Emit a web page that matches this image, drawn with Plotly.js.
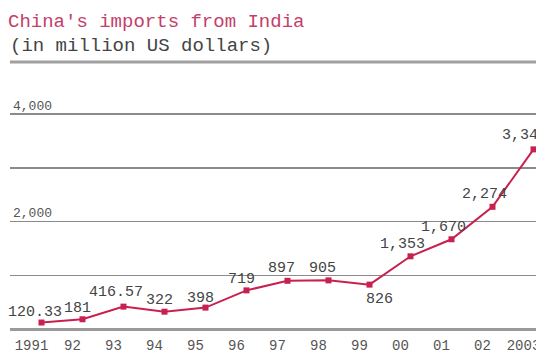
<!DOCTYPE html>
<html>
<head>
<meta charset="utf-8">
<script src="https://cdn.plot.ly/plotly-3.0.1.min.js"></script>
<style>html,body{margin:0;padding:0;background:#fff;}#chart{width:536px;height:356px;}</style>
</head>
<body>
<div id="chart"></div>
<script>
const years = [1991, 1992, 1993, 1994, 1995, 1996, 1997, 1998, 1999, 2000, 2001, 2002, 2003];
const yearLabels = ["1991", "92", "93", "94", "95", "96", "97", "98", "99", "00", "01", "02", "2003"];
const imports = [120.33, 181, 416.57, 322, 398, 719, 897, 905, 826, 1353, 1670, 2274, 3343];
const yTickVals = [0, 1000, 2000, 3000, 4000];
const yTickText = ["", "", "2,000", "", "4,000"];

// label offsets (px) relative to each point
const labelDX = [-6, -5, -7, -5, -5, -5, -6, -6, 10, -8, -8, -8, -9];
const labelDY = [10, 11, 14, 11, 9, 11, 12, 12, -15, 12, 12, 12, 14];

const lineColor = '#c8204f';
const textGray = '#555555';
const monoFont = '"Liberation Mono", "Courier New", monospace';

const trace = {
  x: years,
  y: imports,
  type: 'scatter',
  mode: 'lines+markers',
  line: {color: lineColor, width: 2},
  marker: {symbol: 'square', size: 6, color: lineColor},
  cliponaxis: false,
  hoverinfo: 'x+y'
};

const annotations = imports.map((v, i) => ({
  x: years[i], y: v, xref: 'x', yref: 'y',
  text: v.toLocaleString('en-US'),
  showarrow: false,
  xshift: labelDX[i], yshift: labelDY[i],
  font: {family: monoFont, size: 15, color: '#444'},
  xanchor: 'center', yanchor: 'middle'
}));

annotations.push({
  xref: 'paper', yref: 'paper', x: -0.004, y: 1 + (113 - 46)/216,
  xanchor: 'left', yanchor: 'middle', showarrow: false,
  text: '(in million US dollars)',
  font: {family: monoFont, size: 19, color: '#444'}
});

const layout = {
  width: 536, height: 356,
  margin: {l: 10, r: 0, t: 113, b: 27},
  paper_bgcolor: '#fff', plot_bgcolor: '#fff',
  showlegend: false,
  title: {
    text: "China's imports from India",
    xref: 'container', yref: 'container',
    x: 8/536, xanchor: 'left', y: 1 - 20/356, yanchor: 'middle',
    font: {family: monoFont, size: 19, color: '#c43e6a'}
  },
  xaxis: {
    range: [1990.232, 2003.061],
    tickvals: years, ticktext: yearLabels,
    ticks: '', showgrid: false, zeroline: false, showline: false,
    ticklabelshift: -10, ticklabelstandoff: 6,
    ticklabeloverflow: 'allow',
    tickfont: {family: monoFont, size: 14, color: textGray},
    fixedrange: true
  },
  yaxis: {
    range: [0, 4020],
    tickvals: yTickVals, ticktext: yTickText,
    ticks: '', showgrid: true, gridcolor: '#8a8a8a', gridwidth: 1.5,
    zeroline: true, zerolinecolor: '#9a9a9a', zerolinewidth: 3,
    showline: false,
    ticklabelposition: 'inside top',
    ticklabeloverflow: 'allow',
    tickfont: {family: monoFont, size: 13, color: textGray},
    fixedrange: true
  },
  shapes: [{
    type: 'line', xref: 'paper', yref: 'paper',
    x0: 0, x1: 1, y0: 1 + (113 - 62)/216, y1: 1 + (113 - 62)/216,
    line: {color: '#a0a0a0', width: 3}
  }],
  annotations: annotations
};

Plotly.newPlot('chart', [trace], layout, {displayModeBar: false, staticPlot: true});
</script>
</body>
</html>
